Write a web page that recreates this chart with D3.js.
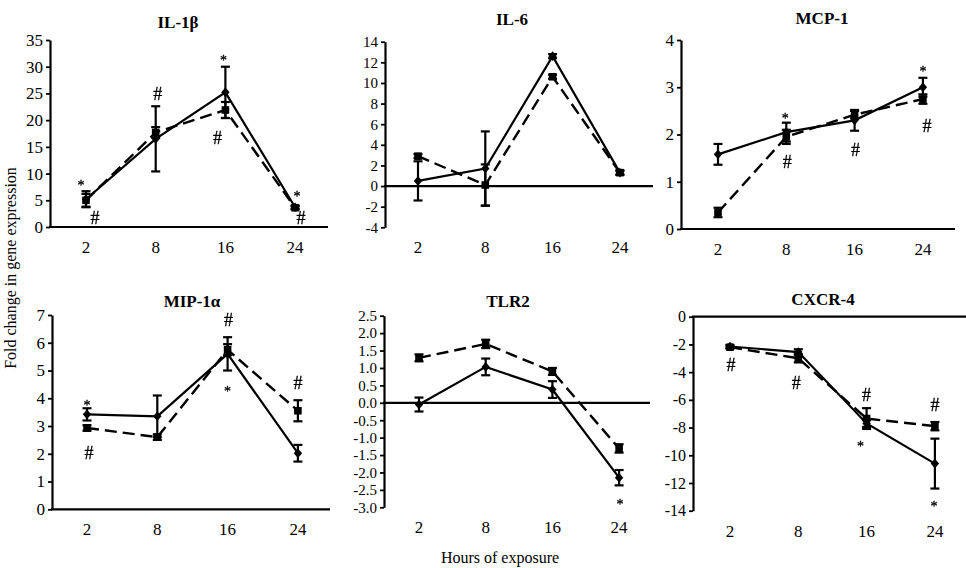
<!DOCTYPE html>
<html>
<head>
<meta charset="utf-8">
<script src="https://cdn.jsdelivr.net/npm/d3@7"></script>
<style>
  html, body { margin: 0; padding: 0; background: #fff; }
  svg { display: block; }
  text { font-family: "Liberation Serif", "Times New Roman", serif; fill: #000; }
</style>
</head>
<body>
<svg id="chart" width="966" height="568"></svg>
<script>
// ---------------- DATA ----------------
const hours = ["2", "8", "16", "24"];
const titles = ["IL-1β", "IL-6", "MCP-1", "MIP-1α", "TLR2", "CXCR-4"];
const yAxisLabel = "Fold change in gene expression";
const xAxisLabel = "Hours of exposure";

// solid line (diamonds) and dashed line (squares), with error values
const il1bSolid = [5.2, 16.5, 25.2, 3.7];
const il1bSolidErr = [1.5, 6.1, 4.8, 0.3];
const il1bDashed = [5.0, 17.7, 21.9, 3.6];
const il1bDashedErr = [1.2, 1.0, 1.5, 0.3];
const il1bTicks = [0, 5, 10, 15, 20, 25, 30, 35];
const il1bMarks = [["2", "*", 8.4], ["2", "#", 1.7], ["8", "#", 24.9], ["16", "*", 31.8], ["16", "#", 16.7], ["24", "*", 6.4], ["24", "#", 1.7]];

const il6Solid = [0.5, 1.7, 12.6, 1.3];
const il6SolidErr = [1.9, 3.6, 0.2, 0.2];
const il6Dashed = [2.9, 0.1, 10.6, 1.3];
const il6DashedErr = [0.2, 2.0, 0.2, 0.2];
const il6Ticks = [-4, -2, 0, 2, 4, 6, 8, 10, 12, 14];
const il6Marks = [];

const mcp1Solid = [1.58, 2.05, 2.3, 3.0];
const mcp1SolidErr = [0.22, 0.2, 0.22, 0.2];
const mcp1Dashed = [0.35, 1.95, 2.42, 2.75];
const mcp1DashedErr = [0.1, 0.15, 0.08, 0.1];
const mcp1Ticks = [0, 1, 2, 3, 4];
const mcp1Marks = [["8", "*", 2.41], ["8", "#", 1.42], ["16", "#", 1.69], ["24", "*", 3.41], ["24", "#", 2.2]];

const mip1aSolid = [3.42, 3.35, 5.6, 2.02];
const mip1aSolidErr = [0.22, 0.75, 0.6, 0.3];
const mip1aDashed = [2.93, 2.6, 5.75, 3.55];
const mip1aDashedErr = [0.1, 0.1, 0.2, 0.38];
const mip1aTicks = [0, 1, 2, 3, 4, 5, 6, 7];
const mip1aMarks = [["2", "*", 3.87], ["2", "#", 2.03], ["16", "#", 6.82], ["16", "*", 4.37], ["24", "#", 4.55]];

const tlr2Solid = [-0.05, 1.03, 0.38, -2.15];
const tlr2SolidErr = [0.2, 0.24, 0.24, 0.22];
const tlr2Dashed = [1.29, 1.69, 0.9, -1.31];
const tlr2DashedErr = [0.1, 0.12, 0.1, 0.12];
const tlr2Ticks = [-3, -2.5, -2, -1.5, -1, -0.5, 0, 0.5, 1, 1.5, 2, 2.5];
const tlr2Marks = [["24", "*", -2.83]];

const cxcr4Solid = [-2.15, -2.55, -7.7, -10.6];
const cxcr4SolidErr = [0.1, 0.2, 0.25, 1.8];
const cxcr4Dashed = [-2.2, -3.0, -7.35, -7.9];
const cxcr4DashedErr = [0.1, 0.3, 0.75, 0.3];
const cxcr4Ticks = [-14, -12, -10, -8, -6, -4, -2, 0];
const cxcr4Marks = [["2", "#", -3.48], ["8", "#", -4.78], ["16", "#", -5.58], ["16", "*", -9.11], ["24", "#", -6.37], ["24", "*", -13.5]];

// ---------------- PANELS ----------------
const fmtInt = d => String(d);
const fmt1 = d => d3.format(".1f")(d).replace("\u2212", "-");
const panels = [
  { title: titles[0], solid: il1bSolid, solidErr: il1bSolidErr, dashed: il1bDashed, dashedErr: il1bDashedErr, ticks: il1bTicks, marks: il1bMarks, fmt: fmtInt },
  { title: titles[1], solid: il6Solid, solidErr: il6SolidErr, dashed: il6Dashed, dashedErr: il6DashedErr, ticks: il6Ticks, marks: il6Marks, fmt: fmtInt },
  { title: titles[2], solid: mcp1Solid, solidErr: mcp1SolidErr, dashed: mcp1Dashed, dashedErr: mcp1DashedErr, ticks: mcp1Ticks, marks: mcp1Marks, fmt: fmtInt },
  { title: titles[3], solid: mip1aSolid, solidErr: mip1aSolidErr, dashed: mip1aDashed, dashedErr: mip1aDashedErr, ticks: mip1aTicks, marks: mip1aMarks, fmt: fmtInt },
  { title: titles[4], solid: tlr2Solid, solidErr: tlr2SolidErr, dashed: tlr2Dashed, dashedErr: tlr2DashedErr, ticks: tlr2Ticks, marks: tlr2Marks, fmt: fmt1 },
  { title: titles[5], solid: cxcr4Solid, solidErr: cxcr4SolidErr, dashed: cxcr4Dashed, dashedErr: cxcr4DashedErr, ticks: cxcr4Ticks, marks: cxcr4Marks, fmt: fmtInt }
];

// layout (pixel geometry of each panel)
const layout = [
  { x0: 50,  x1: 328, c0: 86,  step: 69.7, yTop: 40,    yBot: 227,   tx: 178, ty: 28,  tick: 17, markDx: [-5, 9, 2, -2, -8, 2, 6] },
  { x0: 385, x1: 653, c0: 418, step: 67.3, yTop: 41.7,  yBot: 227.3, tx: 512, ty: 25,  tick: 15, markDx: [] },
  { x0: 681, x1: 955, c0: 718, step: 68.3, yTop: 40,    yBot: 229,   tx: 822, ty: 24,  tick: 17, markDx: [-1, 1, 1, 0, 4] },
  { x0: 52,  x1: 330, c0: 87,  step: 70.3, yTop: 315,   yBot: 509.3, tx: 192, ty: 307, tick: 17, markDx: [0, 2, 1, 0, 0] },
  { x0: 384, x1: 650, c0: 419, step: 66.7, yTop: 315.7, yBot: 507.3, tx: 508, ty: 307, tick: 15, markDx: [1] },
  { x0: 693, x1: 966, c0: 730, step: 68.3, yTop: 316.7, yBot: 510.7, tx: 823, ty: 305, tick: 16, markDx: [1, -2, 0, -6, 0, -1] }
];

const svg = d3.select("#chart");
// a no-op filter: renders the marks offscreen so they get plain grayscale anti-aliasing
svg.append("defs").append("filter").attr("id", "gray")
  .append("feOffset").attr("dx", 0).attr("dy", 0);

function diamond(cx, cy) {
  const w = 4.2, h = 4.8;
  return `M${cx},${cy - h}L${cx + w},${cy}L${cx},${cy + h}L${cx - w},${cy}Z`;
}

panels.forEach((p, i) => {
  const L = layout[i];
  const g = svg.append("g");
  const x = d3.scalePoint().domain(hours).range([L.c0, L.c0 + 3 * L.step]);
  const y = d3.scaleLinear().domain(d3.extent(p.ticks)).range([L.yBot, L.yTop]);

  // y axis
  const ax = g.append("g")
    .attr("transform", `translate(${L.x0},0)`)
    .call(d3.axisLeft(y).tickValues(p.ticks).tickSize(4).tickSizeOuter(0).tickPadding(3).tickFormat(p.fmt));
  ax.select(".domain").attr("stroke", "#000").attr("stroke-width", 2.2);
  ax.selectAll(".tick line").attr("stroke", "#000").attr("stroke-width", 1.8);
  ax.selectAll(".tick text").attr("font-size", L.tick).attr("font-family", '"Liberation Serif", "Times New Roman", serif').attr("fill", "#000");

  // horizontal axis line at zero
  g.append("line")
    .attr("x1", L.x0 - 1).attr("x2", L.x1)
    .attr("y1", y(0)).attr("y2", y(0))
    .attr("stroke", "#000").attr("stroke-width", 2.2);

  // category labels
  g.selectAll("text.cat").data(hours).join("text")
    .attr("class", "cat")
    .attr("x", d => x(d)).attr("y", L.yBot + 26)
    .attr("text-anchor", "middle").attr("font-size", 17)
    .text(d => d);

  // title
  g.append("text")
    .attr("x", L.tx).attr("y", L.ty)
    .attr("text-anchor", "middle").attr("font-size", 17).attr("font-weight", "bold")
    .text(p.title);

  const line = d3.line().x((d, k) => x(hours[k])).y(d => y(d));

  // error bars
  const drawErr = (vals, errs) => {
    vals.forEach((v, k) => {
      const cx = x(hours[k]);
      const yHi = y(v + errs[k]), yLo = y(v - errs[k]);
      g.append("line").attr("x1", cx).attr("x2", cx).attr("y1", yHi).attr("y2", yLo)
        .attr("stroke", "#000").attr("stroke-width", 2.2);
      [yHi, yLo].forEach(yy => g.append("line")
        .attr("x1", cx - 4.5).attr("x2", cx + 4.5).attr("y1", yy).attr("y2", yy)
        .attr("stroke", "#000").attr("stroke-width", 2.2));
    });
  };
  drawErr(p.dashed, p.dashedErr);
  drawErr(p.solid, p.solidErr);

  // dashed series
  g.append("path").datum(p.dashed).attr("d", line)
    .attr("fill", "none").attr("stroke", "#000").attr("stroke-width", 2.4)
    .attr("stroke-dasharray", "12,6");
  // solid series
  g.append("path").datum(p.solid).attr("d", line)
    .attr("fill", "none").attr("stroke", "#000").attr("stroke-width", 2.2);

  // markers
  g.selectAll("rect.sq").data(p.dashed).join("rect")
    .attr("class", "sq")
    .attr("x", (d, k) => x(hours[k]) - 3.8).attr("y", d => y(d) - 3.8)
    .attr("width", 7.6).attr("height", 7.6).attr("fill", "#000");
  g.selectAll("path.dm").data(p.solid).join("path")
    .attr("class", "dm")
    .attr("d", (d, k) => diamond(x(hours[k]), y(d)))
    .attr("fill", "#000");

  // significance marks
  const mg = g.append("g").attr("filter", "url(#gray)");
  p.marks.forEach((m, k) => {
    const isStar = m[1] === "*";
    mg.append("text")
      .attr("x", x(m[0]) + (L.markDx[k] || 0))
      .attr("y", y(m[2]))
      .attr("dy", isStar ? "0.55em" : "0.36em")
      .attr("text-anchor", "middle")
      .attr("font-size", isStar ? 14 : 18)
      .attr("stroke", "#000").attr("stroke-width", 0.3)
      .text(m[1]);
  });
});

// shared axis titles
svg.append("text")
  .attr("transform", "translate(16,268) rotate(-90)")
  .attr("text-anchor", "middle").attr("font-size", 16)
  .text(yAxisLabel);
svg.append("text")
  .attr("x", 500).attr("y", 563)
  .attr("text-anchor", "middle").attr("font-size", 16)
  .text(xAxisLabel);
</script>
</body>
</html>
